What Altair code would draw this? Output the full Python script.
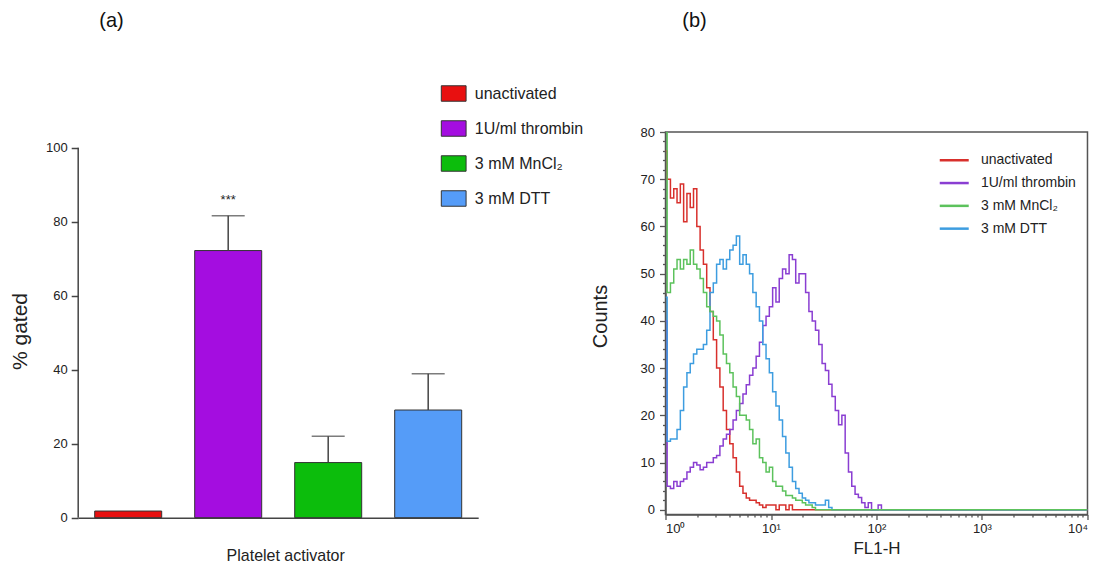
import altair as alt
import pandas as pd

# ---------------- panel (a): bar chart ----------------
activators = ["unactivated", "1U/ml thrombin", "3 mM MnCl₂", "3 mM DTT"]
pct_gated = [1.8, 72.2, 14.9, 29.1]
sem = [0.0, 9.4, 7.1, 9.8]
significance = ["", "***", "", ""]
bar_colors = ["#e81010", "#a40de0", "#0cbd0c", "#559cf8"]
y_ticks_a = [0, 20, 40, 60, 80, 100]

# ---------------- panel (b): flow cytometry histograms ----------------
# counts per histogram channel pair (every 2 of 256 log channels, 4 decades)
counts_unact = [76, 70, 66, 68, 65, 69, 61, 67, 64, 68, 60, 55, 52, 47, 42, 36, 30, 26,
                21, 17, 14, 11, 8, 5, 3.5, 2.5, 2, 2, 1.5, 1, 0.5, 1, 1, 1, 0, 1, 1, 0, 1, 0]
counts_thrombin = [40, 5, 4.5, 6, 5, 6, 6.5, 8, 9, 10, 9.5, 8.5, 9, 10, 10, 11, 11.5, 13.5,
                   15, 16, 17, 19, 21, 22.5, 24.5, 26.5, 28.5, 30, 32.5, 35.5, 39, 41, 43, 47,
                   44, 49, 51, 50, 54, 53, 48, 50, 50, 46, 42, 40, 38, 35, 31, 29.5, 26.6, 24,
                   21, 18, 20, 12, 8, 5, 3.3, 2.6, 1.5, 0.5, 1.5, 0, 0, 1, 0]
counts_mncl2 = [80, 46, 48, 51, 53, 51, 53, 52, 55, 52, 51, 49, 46, 43, 42, 41, 40, 37, 33,
                31, 29, 26, 24, 20, 20, 19, 17, 14, 15, 11, 10, 8, 9, 6, 5, 5, 4, 3, 3, 2.5,
                2, 2, 1.5, 1, 1, 0.5, 0]
counts_dtt = [45, 14.5, 15, 15, 17, 21, 26, 29, 31, 33, 34, 34, 35, 38, 46, 48, 52, 53, 51,
              53, 55, 56, 58, 52, 54, 52, 50, 46, 43, 40, 35, 32, 29, 25, 22, 19, 15.5, 12, 9,
              6, 4.5, 3.5, 2.5, 2, 1.5, 1.5, 1, 1, 1, 2, 0.5, 0]
line_colors = ["#d8302c", "#8a3ed2", "#5cc25c", "#3d9de0"]
x_tick_values_b = [1, 10, 100, 1000, 10000]
x_tick_labels_b = ["10⁰", "10¹", "10²", "10³", "10⁴"]
y_ticks_b = list(range(0, 81, 2))
panel_labels = ["(a)", "(b)"]

FONT = "Liberation Sans"
AXIS_COL = "#444"

# ---------- build panel (a) ----------
df_a = pd.DataFrame({
    "activator": activators,
    "pct": pct_gated,
    "upper": [p + e for p, e in zip(pct_gated, sem)],
    "sig": significance,
})

x_a = alt.X(
    "activator:N", sort=activators,
    scale=alt.Scale(paddingInner=0.33, paddingOuter=0.165),
    axis=alt.Axis(labels=False, ticks=False, domainColor=AXIS_COL, domainWidth=1.5,
                  title="Platelet activator", titleFontSize=16, titleFontWeight="normal",
                  titleColor="#222", titleX=207, titleY=38, titleBaseline="middle",
                  titleAlign="center"),
)
y_scale_a = alt.Scale(domain=[0, 104.24], nice=False, zero=True)
y_a = alt.Y(
    "pct:Q", scale=y_scale_a,
    axis=alt.Axis(values=y_ticks_a, tickSize=7, tickWidth=1.5, tickColor=AXIS_COL,
                  domain=False, grid=False, labelFontSize=13, labelPadding=4,
                  labelColor="#222", title="% gated", titleFontSize=21,
                  titleFontWeight="normal", titleColor="#222", titleAngle=270,
                  titleX=-58, titleY=199, titleBaseline="middle", titleAlign="center"),
)

base_a = alt.Chart(df_a)
bars = base_a.mark_bar(stroke="#333", strokeWidth=1).encode(
    x=x_a, y=y_a,
    color=alt.Color(
        "activator:N", sort=activators,
        scale=alt.Scale(domain=activators, range=bar_colors),
        legend=alt.Legend(orient="none", legendX=367, legendY=-47, title=None,
                          symbolType="M-1.6,-1H1.6V1H-1.6Z", symbolSize=240,
                          symbolStrokeColor="#333", symbolStrokeWidth=1,
                          symbolOpacity=1, labelFontSize=16, labelOffset=12.6,
                          rowPadding=14, padding=0, labelColor="#222", labelFont=FONT),
    ),
)
err_rule = base_a.transform_filter("datum.upper > datum.pct").mark_rule(
    color=AXIS_COL, strokeWidth=1.5).encode(
    x=alt.X("activator:N", sort=activators), y="pct:Q", y2="upper:Q")
err_cap = base_a.transform_filter("datum.upper > datum.pct").mark_tick(
    color=AXIS_COL, thickness=1.5, size=33).encode(
    x=alt.X("activator:N", sort=activators), y="upper:Q")
stars = base_a.transform_filter("datum.sig != ''").mark_text(
    fontSize=13, baseline="alphabetic", dy=-12, color="#222").encode(
    x=alt.X("activator:N", sort=activators), y="upper:Q", text="sig:N")
y_line_a = alt.Chart(pd.DataFrame({"v": [0]})).mark_rule(
    color=AXIS_COL, strokeWidth=1.5).encode(
    x=alt.value(0), y=alt.datum(0), y2=alt.datum(100))
label_a = alt.Chart(pd.DataFrame({"t": [panel_labels[0]]})).mark_text(
    fontSize=20, baseline="middle", align="center", color="#111").encode(
    x=alt.value(33.3), y=alt.value(-111), text="t:N")

panel_a = alt.layer(y_line_a, bars, err_rule, err_cap, stars, label_a).properties(
    width=400, height=385.7, view=alt.ViewBackground(stroke=None))

# ---------- build panel (b) ----------
rows = []
for name, vals in zip(activators, [counts_unact, counts_thrombin, counts_mncl2, counts_dtt]):
    xs = [10 ** (2 * k / 64) for k in range(len(vals))] + [10000]
    ys = list(vals) + [0]
    for xv, yv in zip(xs, ys):
        rows.append({"series": name, "fl1": xv, "count": yv})
df_b = pd.DataFrame(rows)

major_js = "[" + ",".join(str(v) for v in x_tick_values_b) + "]"
label_js = "[" + ",".join("'" + s + "'" for s in x_tick_labels_b) + "]"
minor_x = []
for d in range(4):
    for m in range(1, 10):
        minor_x.append(m * 10 ** d)
minor_x.append(10000)

x_b = alt.X(
    "fl1:Q",
    scale=alt.Scale(type="log", domain=[1, 10000], nice=False),
    axis=alt.Axis(values=minor_x, grid=False, domainColor="#555", domainWidth=1.5,
                  tickColor="#555", tickWidth=1.3,
                  tickSize={"condition": {"test": f"indexof({major_js}, datum.value) >= 0", "value": 5}, "value": 2.5},
                  labelExpr=f"indexof({major_js}, datum.value) >= 0 ? {label_js}[indexof({major_js}, datum.value)] : ''",
                  labelOverlap=False, labelFontSize=13, labelPadding=3, labelColor="#222",
                  title="FL1-H", titleFontSize=17, titleFontWeight="normal", titleColor="#222",
                  titleX=211, titleY=34.5, titleBaseline="middle", titleAlign="center"),
)
y_b = alt.Y(
    "count:Q",
    scale=alt.Scale(domain=[-1, 80], nice=False, zero=False),
    axis=alt.Axis(values=y_ticks_b, grid=False, domainColor="#555", domainWidth=1.5,
                  tickColor="#555", tickWidth=1.3,
                  tickSize={"condition": {"test": "datum.value % 10 === 0", "value": 6}, "value": 3},
                  labelExpr="datum.value % 10 === 0 ? datum.label : ''",
                  labelOverlap=False, labelFontSize=13, labelPadding=5, labelColor="#222",
                  title="Counts", titleFontSize=20, titleFontWeight="normal", titleColor="#222",
                  titleAngle=270, titleX=-65, titleY=184, titleBaseline="middle",
                  titleAlign="center"),
)
color_b = alt.Color(
    "series:N", sort=activators,
    scale=alt.Scale(domain=activators, range=line_colors),
    legend=alt.Legend(orient="none", legendX=280.25, legendY=19.75, title=None,
                      symbolType="M-2,0H2", symbolSize=210, symbolStrokeWidth=2.5,
                      labelFontSize=14, labelOffset=18.25, rowPadding=6.8, padding=0,
                      labelColor="#222", labelFont=FONT),
)

draw_order = [activators[0], activators[1], activators[3], activators[2]]
line_layers = []
for name in draw_order:
    line_layers.append(
        alt.Chart(df_b).transform_filter(alt.datum.series == name).mark_line(
            interpolate="step", strokeWidth=1.5, clip=True).encode(
            x=x_b, y=y_b, color=color_b)
    )
label_b = alt.Chart(pd.DataFrame({"t": [panel_labels[1]]})).mark_text(
    fontSize=20, baseline="middle", align="center", color="#111").encode(
    x=alt.value(29), y=alt.value(-111), text="t:N")

panel_b = alt.layer(*line_layers, label_b).properties(
    width=422, height=382.5, view=alt.ViewBackground(stroke="#555", strokeWidth=1.5))

chart = alt.hconcat(panel_a, panel_b, spacing=187.3, bounds="flush").resolve_scale(
    color="independent").resolve_legend(color="independent").properties(
    padding={"left": 1.2, "top": 2, "right": 0, "bottom": 0}
).configure(font=FONT).configure_axis(labelFont=FONT, titleFont=FONT)

chart.save("out.html", embed_options={"renderer": "svg", "actions": False})
